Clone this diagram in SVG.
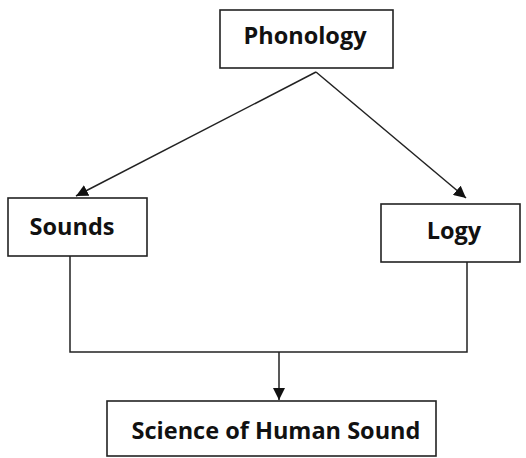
<svg xmlns="http://www.w3.org/2000/svg" width="526" height="458" viewBox="0 0 526 458">
<style>
.box{fill:#fff;stroke:#222;stroke-width:1.6}
.lbl{font-family:"Open Sans","Liberation Sans",sans-serif;font-weight:bold;font-size:23.5px;fill:#111;text-anchor:middle}
.con{fill:none;stroke:#222;stroke-width:1.5}
</style>
<defs>
<marker id="ah" viewBox="0 0 10 10" refX="10" refY="5" markerWidth="12" markerHeight="12" markerUnits="userSpaceOnUse" orient="auto">
<path d="M0,0 L10,5 L0,10 z" fill="#111"/>
</marker>
</defs>
<g id="connectors">
<path class="con" d="M316,72 L76,196" marker-end="url(#ah)"/>
<path class="con" d="M316,72 L466,198" marker-end="url(#ah)"/>
<path class="con" d="M70,256 V352 H467 V262"/>
<path class="con" d="M279,352 V400" marker-end="url(#ah)"/>
</g>
<g id="phonology">
<rect class="box" x="220" y="10" width="173" height="58"/>
<text class="lbl" x="305" y="44">Phonology</text>
</g>
<g id="sounds">
<rect class="box" x="8" y="198" width="139" height="58"/>
<text class="lbl" x="72" y="235">Sounds</text>
</g>
<g id="logy">
<rect class="box" x="381" y="204" width="139" height="58"/>
<text class="lbl" x="454" y="239">Logy</text>
</g>
<g id="science">
<rect class="box" x="107" y="401" width="329" height="55"/>
<text class="lbl" x="276" y="439">Science of Human Sound</text>
</g>
</svg>
